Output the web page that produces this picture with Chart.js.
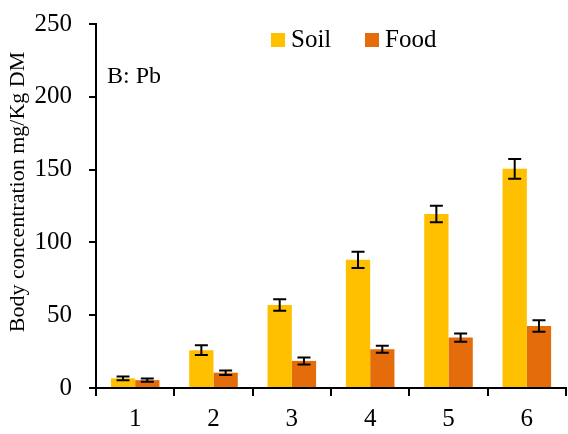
<!DOCTYPE html>
<html lang="en">
<head>
<meta charset="UTF-8">
<title>Body concentration - Pb</title>
<script src="https://cdn.jsdelivr.net/npm/chart.js"></script>
<style>
    body { margin: 0; background: #fff; }
    #wrap { width: 568px; height: 434px; }
</style>
</head>
<body>
<div id="wrap"><canvas id="grafico" width="568" height="434"></canvas></div>

<script>
    // data
    const categorias = ['1', '2', '3', '4', '5', '6'];
    const soil = [6.6, 26, 57, 88, 119.5, 150.5];
    const soilErr = [1.3, 3.3, 4, 5.5, 5.6, 6.7];
    const food = [5.4, 10.5, 18.6, 26.6, 34.6, 42.6];
    const foodErr = [1.1, 1.6, 2.4, 2.4, 2.8, 3.9];
    const yTicks = [0, 50, 100, 150, 200, 250];

    const serif = "'Liberation Serif', 'Times New Roman', serif";
    const erros = [soilErr, foodErr];

    // error bars, legend, y title and panel label
    const extras = {
        id: 'extras',
        afterDatasetsDraw(chart) {
            const ctx = chart.ctx;
            const y = chart.scales.y;
            ctx.save();
            ctx.strokeStyle = '#000';
            ctx.lineWidth = 2;
            chart.data.datasets.forEach((ds, i) => {
                const meta = chart.getDatasetMeta(i);
                meta.data.forEach((bar, j) => {
                    const v = ds.data[j];
                    const e = erros[i][j];
                    const yTop = y.getPixelForValue(v + e);
                    const yBot = y.getPixelForValue(v - e);
                    ctx.beginPath();
                    ctx.moveTo(bar.x, yTop);
                    ctx.lineTo(bar.x, yBot);
                    ctx.moveTo(bar.x - 6.5, yTop);
                    ctx.lineTo(bar.x + 6.5, yTop);
                    ctx.moveTo(bar.x - 6.5, yBot);
                    ctx.lineTo(bar.x + 6.5, yBot);
                    ctx.stroke();
                });
            });
            ctx.restore();
        },
        afterDraw(chart) {
            const ctx = chart.ctx;
            ctx.save();
            ctx.fillStyle = '#000';
            ctx.textBaseline = 'alphabetic';

            // legend
            const legX = [271, 365];
            ctx.font = '25px ' + serif;
            chart.data.datasets.forEach((ds, i) => {
                ctx.fillStyle = ds.backgroundColor;
                ctx.fillRect(legX[i], 33, 14, 14);
                ctx.fillStyle = '#000';
                ctx.fillText(ds.label, legX[i] + 20, 47);
            });

            // panel label
            ctx.font = '24px ' + serif;
            ctx.fillText('B: Pb', 107, 83);

            // y title
            ctx.font = '22px ' + serif;
            ctx.translate(18, 192);
            ctx.rotate(-Math.PI / 2);
            ctx.textAlign = 'center';
            ctx.textBaseline = 'middle';
            ctx.fillText('Body concentration mg/Kg DM', 0, 0);
            ctx.restore();
        }
    };

    new Chart(document.getElementById('grafico'), {
        type: 'bar',
        data: {
            labels: categorias,
            datasets: [
                {
                    label: 'Soil',
                    data: soil,
                    backgroundColor: '#FFC000',
                    borderWidth: 0,
                    categoryPercentage: 0.62,
                    barPercentage: 1
                },
                {
                    label: 'Food',
                    data: food,
                    backgroundColor: '#E46C0A',
                    borderWidth: 0,
                    categoryPercentage: 0.62,
                    barPercentage: 1
                }
            ]
        },
        options: {
            responsive: false,
            animation: false,
            devicePixelRatio: 1,
            layout: { padding: { left: 0, right: 2, top: 24, bottom: 0 } },
            plugins: {
                legend: { display: false },
                tooltip: { enabled: false }
            },
            scales: {
                x: {
                    grid: {
                        offset: true,
                        drawOnChartArea: false,
                        drawTicks: true,
                        tickLength: 8,
                        color: '#000',
                        lineWidth: 2
                    },
                    border: { display: true, color: '#000', width: 2 },
                    ticks: {
                        color: '#000',
                        padding: 8,
                        font: { family: serif, size: 25 }
                    },
                    afterFit(scale) {
                        scale.height = 46;
                        scale.paddingLeft = 0;
                        scale.paddingRight = 0;
                    }
                },
                y: {
                    min: 0,
                    max: 250,
                    afterBuildTicks(scale) {
                        scale.ticks = yTicks.map(v => ({ value: v }));
                    },
                    grid: {
                        drawOnChartArea: false,
                        drawTicks: true,
                        tickLength: 7,
                        color: '#000',
                        lineWidth: 2
                    },
                    border: { display: true, color: '#000', width: 2 },
                    ticks: {
                        color: '#000',
                        padding: 17,
                        font: { family: serif, size: 25 }
                    },
                    afterFit(scale) {
                        scale.width = 96;
                        scale.paddingTop = 0;
                        scale.paddingBottom = 0;
                    }
                }
            }
        },
        plugins: [extras]
    });
</script>
</body>
</html>
